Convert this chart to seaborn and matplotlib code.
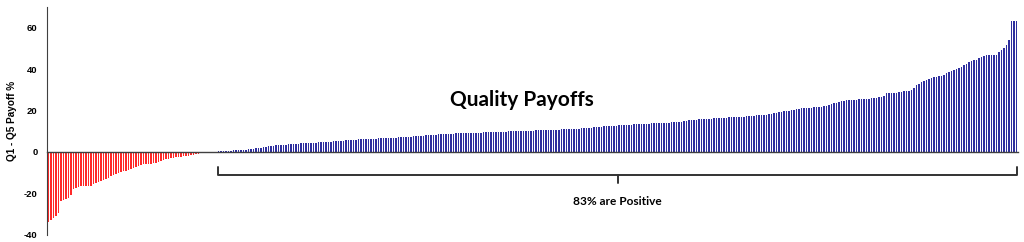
import numpy as np
import pandas as pd
import matplotlib
matplotlib.use("Agg")
import matplotlib.pyplot as plt
import seaborn as sns

# Q1 - Q5 payoff (%) per item, sorted ascending
negative_payoffs = [
    -33.6, -32.6, -31.8, -30.8, -29.6,
    -23.8, -23.2, -22.6, -22.0, -20.8,
    -18.0, -17.4, -16.8, -16.6, -16.5, -16.4, -16.3, -16.2,
    -15.4, -14.8, -14.3, -13.8, -13.5, -13.2, -12.4, -11.8, -11.2, -10.6, -10.2, -9.8,
    -9.4, -9.0, -8.6, -8.2, -7.6, -7.0, -6.6, -6.2, -6.0, -5.8,
    -5.7, -5.6, -5.5, -5.2, -4.8, -4.4, -4.0, -3.6, -3.3, -3.0,
    -2.8, -2.6, -2.4, -2.2, -2.0, -1.9, -1.8, -1.6, -1.4, -1.2,
    -0.9, -0.6, -0.3,
]
positive_payoffs = [
    0.05, 0.1, 0.1, 0.2, 0.2, 0.3, 0.3, 0.4, 0.5, 0.6,
    0.7, 0.8, 0.9, 1.0, 1.0, 1.1, 1.2, 1.3, 1.5, 1.6,
    1.8, 1.9, 2.0, 2.2, 2.5, 2.8, 3.0, 3.1, 3.2, 3.3,
    3.4, 3.5, 3.6, 3.7, 3.8, 3.9, 4.0, 4.0, 4.1, 4.2,
    4.3, 4.3, 4.4, 4.5, 4.5, 4.6, 4.7, 4.7, 4.8, 4.9,
    5.0, 5.1, 5.2, 5.3, 5.4, 5.5, 5.6, 5.7, 5.8, 5.9,
    6.0, 6.1, 6.1, 6.2, 6.3, 6.3, 6.4, 6.5, 6.5, 6.6,
    6.6, 6.7, 6.7, 6.8, 6.8, 6.9, 6.9, 7.0, 7.0, 7.1,
    7.2, 7.3, 7.4, 7.5, 7.6, 7.7, 7.8, 7.9, 8.0, 8.1,
    8.2, 8.3, 8.4, 8.5, 8.6, 8.7, 8.8, 8.8, 8.9, 8.9,
    9.0, 9.0, 9.0, 9.1, 9.1, 9.1, 9.2, 9.2, 9.2, 9.3,
    9.3, 9.4, 9.4, 9.5, 9.5, 9.6, 9.6, 9.7, 9.7, 9.8,
    9.8, 9.9, 9.9, 10.0, 10.0, 10.1, 10.1, 10.2, 10.2, 10.3,
    10.3, 10.3, 10.4, 10.4, 10.4, 10.5, 10.5, 10.5, 10.6, 10.6,
    10.7, 10.8, 10.9, 11.0, 11.0, 11.1, 11.1, 11.2, 11.3, 11.3,
    11.4, 11.5, 11.6, 11.7, 11.8, 11.9, 12.0, 12.1, 12.2, 12.3,
    12.3, 12.4, 12.5, 12.6, 12.7, 12.8, 12.9, 13.0, 13.1, 13.2,
    13.2, 13.3, 13.3, 13.4, 13.4, 13.5, 13.6, 13.7, 13.8, 13.9,
    14.0, 14.0, 14.1, 14.1, 14.2, 14.2, 14.3, 14.4, 14.5, 14.5,
    14.6, 14.8, 15.0, 15.2, 15.4, 15.5, 15.6, 15.7, 15.8, 15.9,
    16.0, 16.1, 16.1, 16.2, 16.3, 16.4, 16.5, 16.5, 16.6, 16.7,
    16.8, 16.8, 16.9, 17.0, 17.0, 17.1, 17.2, 17.3, 17.4, 17.5,
    17.6, 17.7, 17.8, 17.9, 18.0, 18.1, 18.2, 18.6, 18.9, 19.2,
    19.4, 19.6, 19.8, 20.0, 20.2, 20.4, 20.6, 20.8, 21.0, 21.1,
    21.2, 21.3, 21.4, 21.5, 21.6, 21.7, 21.8, 22.0, 22.3, 22.6,
    23.0, 23.4, 23.8, 24.2, 24.6, 24.8, 25.0, 25.1, 25.2, 25.3,
    25.3, 25.4, 25.4, 25.5, 25.6, 25.7, 25.9, 26.0, 26.2, 26.4,
    26.5, 27.0, 28.2, 28.3, 28.4, 28.5, 28.6, 28.8, 29.0, 29.2,
    29.4, 29.6, 29.8, 31.0, 32.2, 33.0, 33.6, 34.2, 34.6, 35.0,
    35.6, 36.0, 36.2, 36.4, 36.5, 37.0, 38.0, 38.5, 39.0, 39.5,
    40.0, 40.5, 41.0, 41.8, 42.6, 43.2, 43.8, 44.2, 44.5, 45.2,
    45.8, 46.3, 46.6, 46.6, 46.7, 46.7, 46.8, 48.0, 49.0, 50.2,
    51.4, 53.8, 63.0, 63.2, 63.3,
]
y_ticks = [-40, -20, 0, 20, 40, 60]
y_label = "Q1 - Q5 Payoff %"
title_text = "Quality Payoffs"
bracket_text = "83% are Positive"
bar_colors = {"neg": "#ff2a2a", "pos": "#2e2e9e"}

values = negative_payoffs + positive_payoffs
df = pd.DataFrame({
    "idx": np.arange(len(values)),
    "payoff": values,
    "sign": ["neg"] * len(negative_payoffs) + ["pos"] * len(positive_payoffs),
})

sns.set_style("white")
plt.rcParams["font.family"] = ["Liberation Sans", "DejaVu Sans"]
plt.rcParams["text.color"] = "black"
plt.rcParams["ytick.color"] = "black"
plt.rcParams["axes.labelcolor"] = "black"

fig = plt.figure(figsize=(10.24, 2.42), dpi=100)
ax = fig.add_axes([0.046, 0.029, 0.948, 0.943])

sns.barplot(data=df, x="idx", y="payoff", hue="sign", palette=bar_colors,
            dodge=False, width=0.6, saturation=1, legend=False,
            linewidth=0, ax=ax)

n = len(values)
ax.set_xlim(-0.5, n - 0.5)
ax.set_ylim(-40, 70)
ax.set_yticks(y_ticks)
ax.set_yticklabels([str(t) for t in y_ticks], fontsize=6.8, fontweight="bold")
ax.set_xticks([])
ax.set_xlabel("")
ax.set_ylabel(y_label, fontsize=7.2, fontweight="bold", labelpad=5)
for s in ["top", "right"]:
    ax.spines[s].set_visible(False)
ax.spines["bottom"].set_position(("data", 0))
ax.spines["bottom"].set_color("#404040")
ax.spines["bottom"].set_linewidth(1.0)
ax.spines["left"].set_color("#404040")
ax.spines["left"].set_linewidth(0.8)
ax.tick_params(axis="y", length=3, width=0.8, color="#404040", pad=4)

# title inside plot
ax.text(0.489, 0.59, title_text, transform=ax.transAxes, ha="center", va="center",
        fontsize=15, fontweight="bold", color="black", family=["Lato", "DejaVu Sans"])

# bracket over the positive bars
x0 = len(negative_payoffs) + 5
x1 = n - 1
xm = (x0 + x1) / 2
yb, yend, ytip = -11.0, -7.2, -15.0
ax.plot([x0, x0, x1, x1], [yend, yb, yb, yend], color="#333333", lw=1.4,
        solid_joinstyle="round", clip_on=False)
ax.plot([xm, xm], [yb, ytip], color="#333333", lw=1.4, clip_on=False)
ax.text(xm, -23.8, bracket_text, ha="center", va="center", fontsize=8.6,
        fontweight="bold", color="black", family=["Lato", "DejaVu Sans"])

fig.savefig("out.png", dpi=100)
